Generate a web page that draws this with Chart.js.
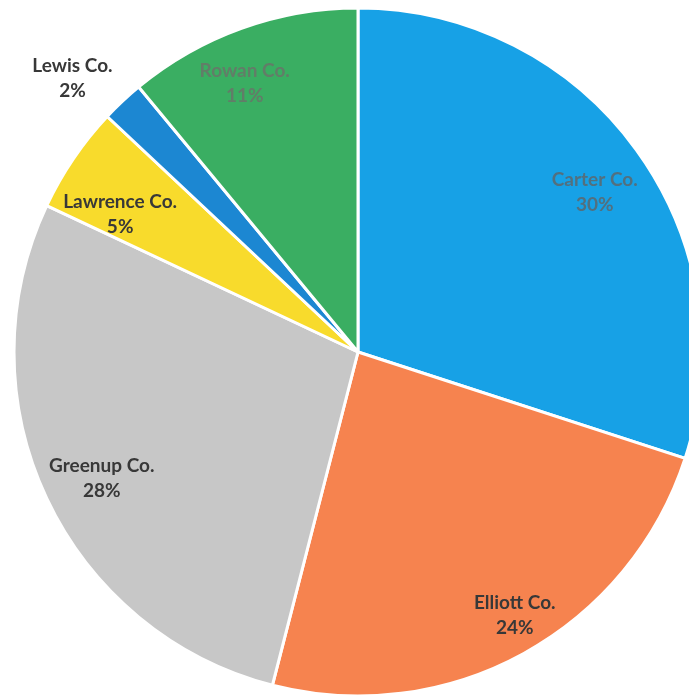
<!DOCTYPE html>
<html><head><meta charset="utf-8">
<script src="https://cdn.jsdelivr.net/npm/chart.js@4/dist/chart.umd.min.js"></script>
<style>html,body{margin:0;padding:0;background:#fff;overflow:hidden}#wrap{width:689px;height:696px}</style>
</head><body><div id="wrap"><canvas id="c" width="689" height="696"></canvas></div>
<script>
const categories = ["Carter Co.", "Elliott Co.", "Greenup Co.", "Lawrence Co.", "Lewis Co.", "Rowan Co."];
const values = [30, 24, 28, 5, 2, 11];
const percentLabels = ["30%", "24%", "28%", "5%", "2%", "11%"];
const colors = ["#17a1e6", "#f6834f", "#c7c7c7", "#f8db2c", "#1c87d2", "#3aae62"];
const labelColors = ["#52707f", "#383838", "#383838", "#383838", "#383838", "#627d68"];
const labelRadius = [0.83, 0.89, 0.83, 0.80, 1.15, 0.85];
const labelAngleShift = [2, -2, -1, -4, -3, -3];

const labelPlugin = {
  id: 'labels',
  afterDatasetsDraw(chart) {
    const ctx = chart.ctx;
    const meta = chart.getDatasetMeta(0);
    meta.data.forEach((arc, i) => {
      const p = arc.getProps(['x','y','startAngle','endAngle','outerRadius'], true);
      const mid = (p.startAngle + p.endAngle) / 2 + labelAngleShift[i] * Math.PI / 180;
      const r = p.outerRadius * labelRadius[i];
      const x = p.x + Math.cos(mid) * r;
      const y = p.y + Math.sin(mid) * r;
      ctx.save();
      ctx.fillStyle = labelColors[i];
      ctx.font = 'bold 19px Lato, "Open Sans", sans-serif';
      ctx.textAlign = 'center';
      ctx.textBaseline = 'middle';
      ctx.fillText(categories[i], x, y - 12);
      ctx.fillText(percentLabels[i], x, y + 13);
      ctx.restore();
    });
  }
};

new Chart(document.getElementById('c'), {
  type: 'pie',
  data: {
    labels: categories,
    datasets: [{
      data: values,
      backgroundColor: colors,
      borderColor: '#ffffff',
      borderWidth: 3,
      radius: 344
    }]
  },
  options: {
    responsive: false,
    animation: false,
    layout: { padding: { left: 27, top: 8, right: 0, bottom: 0 } },
    plugins: { legend: { display: false }, tooltip: { enabled: false } }
  },
  plugins: [labelPlugin]
});
</script></body></html>
